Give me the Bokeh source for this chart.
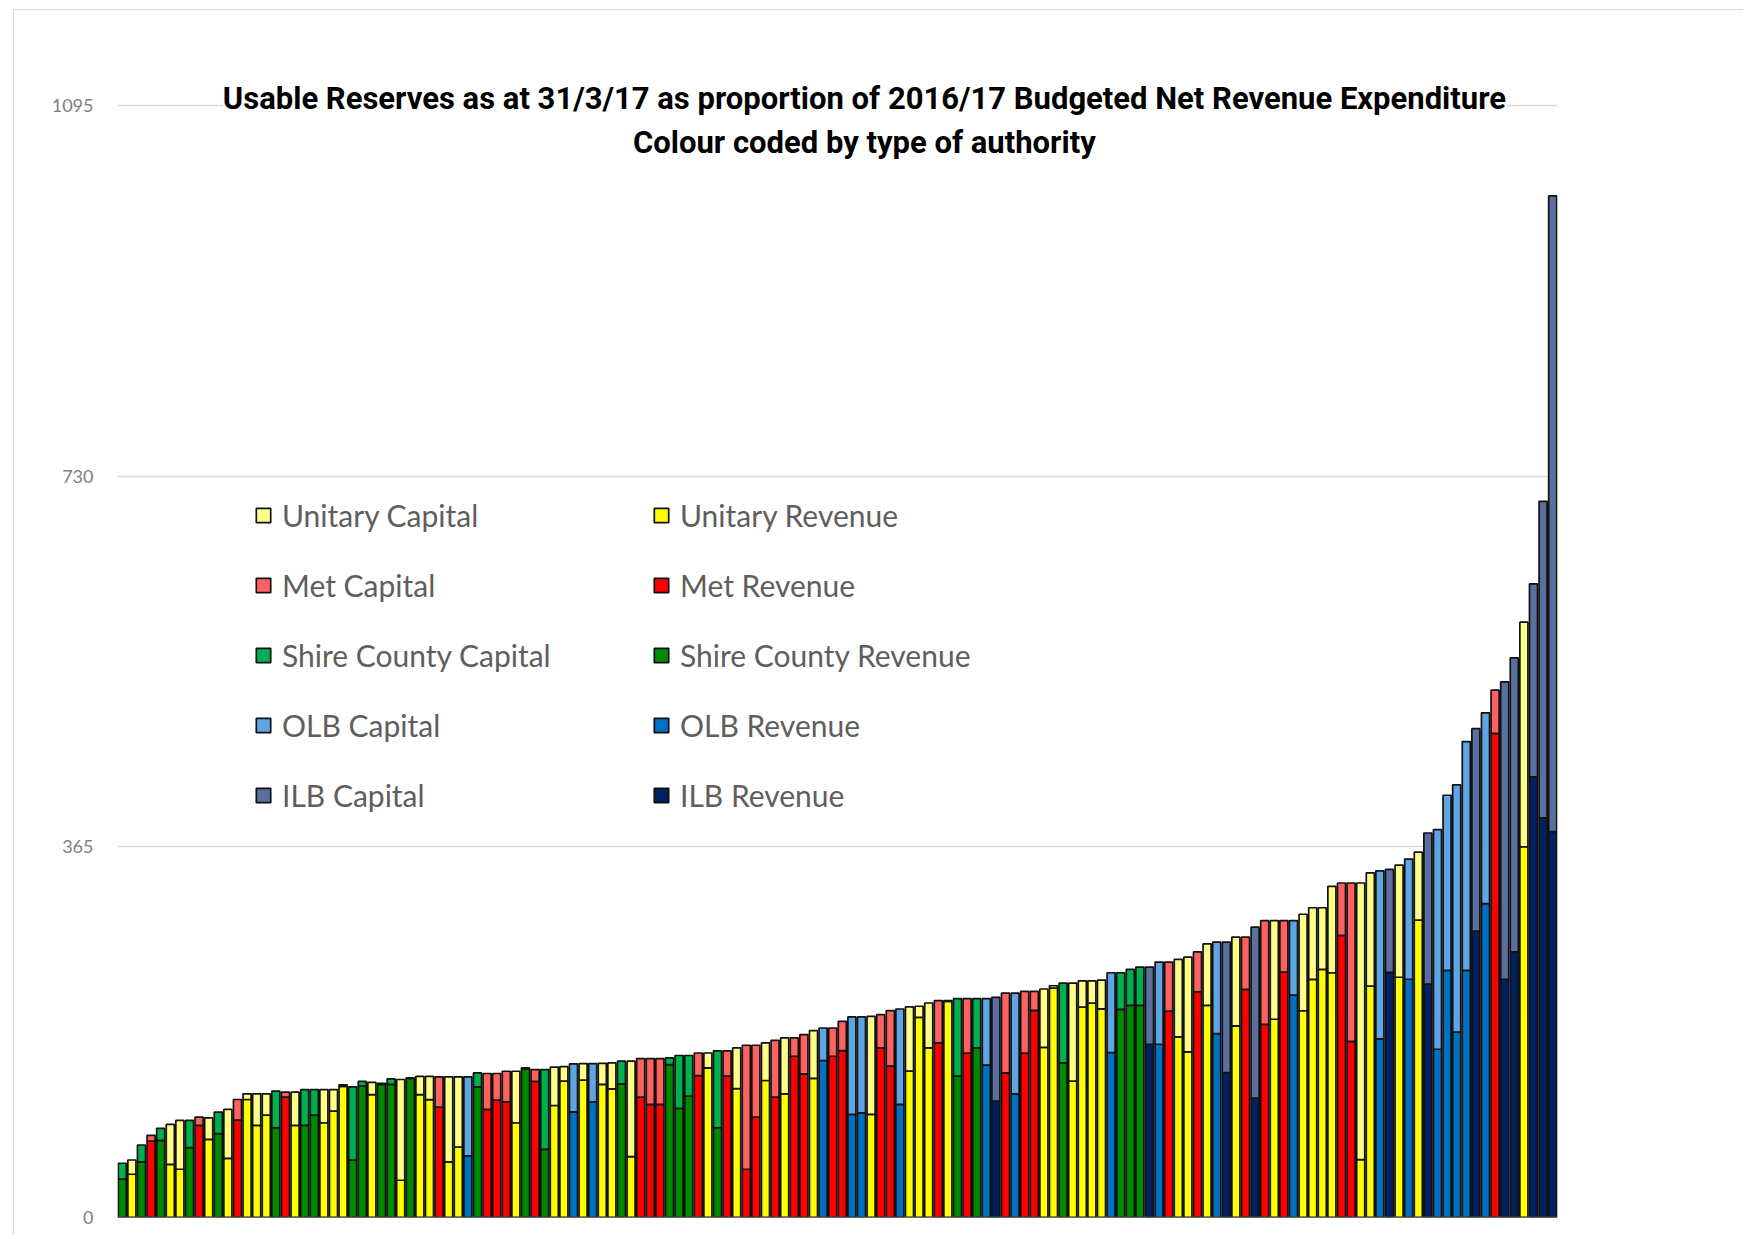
from bokeh.plotting import figure
from bokeh.models import ColumnDataSource, Range1d, FixedTicker, Legend, LegendItem, Label, Span
from bokeh.embed import file_html
from bokeh.resources import INLINE

# ---- data ----
# authority type of each bar: U=Unitary, M=Met, S=Shire County, O=OLB, I=ILB
types = list(
    "SUSMSUUSMU" "SUMUUUSMUS" "SUUUSSUSSU" "SUUMUUOSMM" "MUSMSUUOUO"
    "UUSUMMMSSS" "MUSMUMMUMU" "MMUOMMOOUM" "MOUUUMUSMS" "OIMOMMUUSU"
    "UUUOSSSIOM" "UUMUOIUMIM" "UMOUUUUMMU" "UOIUOUIOOO" "OIOMIIUIII"
)
revenue = [
    37.7, 42.6, 54.7, 75.3, 76.0, 52.4, 47.5, 68.8, 90.7, 77.0,
    82.5, 58.3, 95.9, 116.2, 90.7, 100.9, 88.4, 118.5, 90.7, 90.7,
    100.9, 93.3, 104.8, 129.0, 56.5, 129.3, 121.0, 131.0, 131.0, 36.7,
    137.0, 121.0, 116.0, 108.7, 54.7, 69.4, 60.6, 128.7, 106.4, 115.6,
    114.0, 93.3, 146.0, 134.0, 67.0, 110.3, 134.2, 104.1, 135.2, 114.0,
    131.0, 126.7, 131.6, 59.9, 118.5, 111.3, 111.3, 150.6, 107.4, 119.5,
    139.8, 147.3, 88.4, 139.2, 127.0, 47.5, 98.9, 134.9, 118.5, 121.8,
    158.8, 141.5, 136.9, 154.6, 158.8, 164.4, 101.5, 103.1, 101.5, 167.0,
    149.0, 111.3, 144.1, 197.0, 167.0, 171.9, 212.8, 139.2, 162.0, 167.0,
    150.0, 114.6, 142.4, 121.8, 162.0, 204.0, 167.6, 225.9, 152.3, 134.2,
    207.3, 211.2, 205.5, 162.4, 205.0, 208.9, 208.9, 170.6, 170.6, 203.3,
    177.8, 163.0, 222.3, 208.9, 181.0, 142.8, 188.6, 224.6, 117.6, 190.2,
    195.2, 241.6, 219.0, 203.6, 234.4, 244.3, 241.0, 277.8, 173.4, 57.0,
    227.9, 175.8, 241.4, 236.6, 234.6, 292.8, 229.9, 165.7, 243.4, 182.6,
    243.4, 282.0, 309.0, 476.7, 234.6, 261.7, 365.1, 434.0, 393.5, 380.0,
]
capital = [
    15.7, 14.0, 16.7, 5.6, 11.8, 39.3, 48.1, 26.8, 8.2, 21.2,
    21.3, 48.1, 20.3, 5.6, 31.1, 20.9, 36.0, 4.9, 32.7, 35.3,
    25.1, 32.7, 21.2, 1.6, 72.2, 4.7, 12.0, 1.0, 5.5, 99.2,
    0.5, 18.0, 23.0, 29.8, 83.8, 69.1, 77.9, 13.7, 35.4, 26.2,
    30.0, 50.7, 1.3, 11.7, 78.7, 37.7, 14.3, 47.1, 16.4, 37.6,
    20.8, 25.6, 22.3, 94.0, 38.0, 45.2, 45.2, 6.6, 52.1, 40.0,
    22.2, 14.7, 75.6, 24.8, 40.0, 122.1, 70.7, 37.0, 56.0, 55.0,
    18.0, 38.6, 47.1, 32.0, 27.8, 28.8, 96.0, 94.4, 96.5, 32.7,
    54.7, 94.0, 63.4, 11.0, 44.2, 41.6, 0.7, 76.3, 53.5, 48.5,
    65.5, 102.2, 78.6, 99.2, 60.7, 18.7, 57.4, 2.3, 78.5, 96.6,
    25.8, 21.9, 28.3, 78.6, 36.0, 35.4, 37.7, 76.0, 80.9, 48.2,
    76.3, 93.4, 39.3, 60.6, 90.1, 128.3, 87.4, 51.4, 168.3, 102.2,
    97.2, 50.8, 73.4, 95.0, 70.6, 60.7, 85.1, 51.6, 156.0, 272.4,
    111.5, 165.6, 101.4, 110.3, 118.3, 66.9, 148.7, 216.3, 172.4, 243.4,
    225.2, 199.4, 188.0, 42.6, 292.8, 289.3, 221.1, 190.0, 311.7, 626.0,
]
y_ticks = [0, 365, 730, 1095]
type_codes = ["U", "M", "S", "O", "I"]
type_names = ["Unitary", "Met", "Shire County", "OLB", "ILB"]
title_lines = [
    "Usable Reserves as at 31/3/17 as proportion of 2016/17 Budgeted Net Revenue Expenditure",
    "Colour coded by type of authority",
]

# ---- styling ----
cap_colors = {"U": "#FFFF88", "M": "#FF6161", "S": "#00B050", "O": "#5DA5E3", "I": "#5A6F9E"}
rev_colors = {"U": "#FFFF00", "M": "#FF0000", "S": "#008A00", "O": "#0070C0", "I": "#002060"}

# the chart sits inside a thin grey frame (left and top edges visible)
OX, OY = 14, 10                       # canvas origin on the page (margin + 1px border)
W, H = 1730, 1225
FL, FR, FB = 117 - OX, 1557 - OX, 1217 - OY   # frame left / right / bottom on the canvas
PX_PER_UNIT = (FB - (105 - OY)) / 1095.0      # value 1095 sits at page y = 105
y_top = FB / PX_PER_UNIT                      # frame reaches the canvas top

p = figure(width=W, height=H, output_backend="svg", toolbar_location=None,
           x_range=Range1d(0.5, len(revenue) + 0.5), y_range=Range1d(0, y_top),
           min_border_left=FL, min_border_right=W - FR,
           min_border_top=0, min_border_bottom=H - FB)
p.styles = {"margin-left": "13px", "margin-top": "9px",
            "border-left": "1px solid #D9D9D9", "border-top": "1px solid #D9D9D9"}
p.outline_line_color = None
p.xaxis.visible = False
p.xgrid.visible = False
p.ygrid.ticker = FixedTicker(ticks=y_ticks[1:])
p.ygrid.grid_line_color = "#D9D9D9"
p.ygrid.grid_line_width = 1.5
p.yaxis.ticker = FixedTicker(ticks=y_ticks)
p.yaxis.axis_line_color = None
p.yaxis.major_tick_line_color = None
p.yaxis.minor_tick_line_color = None
p.yaxis.major_label_text_color = "#808080"
p.yaxis.major_label_text_font = "Lato"
p.yaxis.major_label_text_font_size = "18px"
p.yaxis.major_label_standoff = 18

rev_renderers = {}
cap_renderers = {}
for code in type_codes:
    idx = [i for i, t in enumerate(types) if t == code]
    src = ColumnDataSource(dict(
        x=[i + 1 for i in idx],
        rev=[revenue[i] for i in idx],
        tot=[revenue[i] + capital[i] for i in idx],
    ))
    rev_renderers[code] = p.vbar(x="x", width=0.84, bottom=0, top="rev", source=src,
                                 fill_color=rev_colors[code], line_color="#111111", line_width=1.7)
    cap_renderers[code] = p.vbar(x="x", width=0.84, bottom="rev", top="tot", source=src,
                                 fill_color=cap_colors[code], line_color="#111111", line_width=1.7)

p.add_layout(Span(location=0, dimension="width", line_color="#4D4D4D", line_width=2))

def make_legend(items, x, y):
    lg = Legend(items=items, location=(x, y), orientation="vertical",
                glyph_width=18, glyph_height=18, label_height=18,
                label_standoff=10, spacing=34, padding=0, margin=0,
                border_line_color=None, background_fill_alpha=0,
                label_text_font="Lato", label_text_font_size="30px",
                label_text_color="#5E5E5E")
    p.add_layout(lg)

make_legend([LegendItem(label=n + " Capital", renderers=[cap_renderers[c]])
             for c, n in zip(type_codes, type_names)], 137, 404)
make_legend([LegendItem(label=n + " Revenue", renderers=[rev_renderers[c]])
             for c, n in zip(type_codes, type_names)], 535, 404)

for txt, yv in zip(title_lines, [1102, 1059]):
    p.add_layout(Label(x=78.3, y=yv, text=txt, text_align="center", text_baseline="middle",
                       text_font="Roboto", text_font_style="bold",
                       text_font_size="31px", text_color="#000000",
                       background_fill_color="white"))

open("out.html", "w").write(file_html(p, INLINE))
